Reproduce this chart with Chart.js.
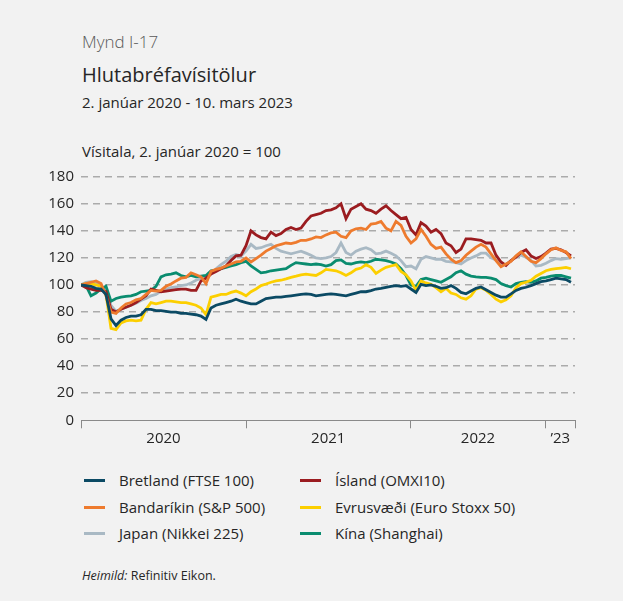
<!DOCTYPE html>
<html lang="is">
<head>
<meta charset="utf-8">
<script src="https://cdn.jsdelivr.net/npm/chart.js@4.4.1/dist/chart.umd.min.js"></script>
<style>
html,body{margin:0;padding:0;background:#f2f2f2;}
body{width:623px;height:601px;position:relative;overflow:hidden;font-family:"Open Sans","Noto Sans",sans-serif;color:#262626;}
.t{position:absolute;left:82px;white-space:nowrap;line-height:1;}
#mynd{top:33px;font-size:17px;color:#595959;font-weight:300;}
#titill{top:65px;font-size:20px;color:#262626;}
#undir{top:95px;font-size:15px;}
#eining{top:144px;font-size:15px;}
#heimild{top:570px;font-size:12.5px;}
#chartwrap{position:absolute;left:0;top:160px;width:623px;height:300px;}
.lg{position:absolute;font-size:15px;line-height:1;white-space:nowrap;}
.lg span.s{position:absolute;left:-35px;top:6px;width:21px;height:3px;}
</style>
</head>
<body>
<div class="t" id="mynd">Mynd I-17</div>
<div class="t" id="titill">Hlutabréfavísitölur</div>
<div class="t" id="undir">2. janúar 2020 - 10. mars 2023</div>
<div class="t" id="eining">Vísitala, 2. janúar 2020 = 100</div>
<div id="chartwrap"><canvas id="c" width="623" height="300"></canvas></div>
<div id="legend"></div>
<div class="t" id="heimild"><i>Heimild:</i> Refinitiv Eikon.</div>
<script>
// Year boundaries (observation index) and year labels
const aarSkil = [0, 33, 65.9, 92.9, 98.8];
const aarHeiti = ['2020', '2021', '2022', '\u201923'];

// Series values (index, 2. janúar 2020 = 100), roughly 12-day steps
const bretland = [100,99.5,99,97.5,97,93,75,70,74,76,77,77,78,82,82,81,81,80.5,80,80,79,79,78.5,78,77,74.5,83,85,86,87,88,89.5,88,87,86,86,88,90,90.5,91,91,91.5,92,92.5,93,93.4,93,92,92.5,93,93.4,93,92.5,92,93,94,95,95,95.8,97,97.5,98.3,99,99.5,99,99.5,97,94.5,100.5,99.5,100,99,97.5,98,99.5,97.5,94.5,93.5,95.5,97.5,98.5,96.5,94.5,92.5,91,91,93.4,96,97.5,98.3,99.5,101,102.5,103,104,105,104.5,104,102];
const bandarikin = [100,101,102,103,101,92,80,79,83,86,87,89,90,93,96,95.5,96,99,100.7,103,105,105.6,109,107.5,106,101,110,111.5,112.5,114,115.5,117,117.5,120,117,119.5,122,125,127,129,130,131,130.5,131.5,133,133,134,135.5,135,137,138.5,139,136,135,140,141.5,142,141,145,145.5,147,142,140,147,144,136,131,134,141,136,130,127,128,123,119,116.5,118,122,125,128,130,128,123,118,113.5,115.5,117.5,121.5,124.5,121,117.5,116.5,119.5,123,126,127.5,125.5,124.5,119.5];
const japan = [100,102,102.5,101.5,100,95,85,80.5,82,83.5,85,86.5,88.5,90,92,93,95.5,97,98,98.5,99.5,100,101.5,103.5,105,106.5,109,112,115,117.5,121,122.5,121.5,125,130,127,127.5,129,130,127,125,124,123,124,125,123.5,122,120,119.5,120,121,124,131,124,122,125,126.5,127.5,126,123,123.5,125,123.5,121.5,118,113.5,114,112,119,121,120,119,119,117.5,117,116.5,115.5,118,120,121.5,123.5,123.5,120,118.5,115,115,118,121,122,120.5,118,114,114.5,116,118,119.5,119,119.5,120];
const island = [100,98,97,96,96,95,82,80,82,83.5,85,87,89.5,92,97,96,95,95.5,96,96.5,97,97,96,96,103,105,108,110,112,114,118,121.5,122,129,140,137,135,134,139,136.5,138,141,142.5,141,142,147,151,152,153,155,155.5,157,160,149,156,158,160,156,155,153,156,158.5,155,152,149,150,141,137,146,143.5,139,141,138,131,129,124,126.5,134,134,133.5,133,131,131,122,117,114.5,118,120.5,124,126,121.5,119.5,121,123.5,126.5,127,126,124,121.5];
const evrusvaedi = [100,101,101,100,99,93,68,67,72,73.5,74,73.5,74,82,87,86,87,88,88,87.5,87,87,86,85,83,78,91,92,93,93,94.5,95.5,94,92,95,97,99.5,100.7,102,103,103.5,104.5,105.6,106.5,107.5,108,107.5,107,109,111.5,111,110.5,109,107,109,111.5,112.5,115,113,108.5,111,113,114,115,110,107.5,103,96,103,101.5,100.5,98,95,97.5,94,93,90.5,89.5,92,97,98,96,93,89.5,87.5,89,92,98,101,102,103.5,106.5,108.5,110.5,111.5,112,112.5,113,112];
const kina = [100,99.5,92,94,97,99,88,90,91,91.5,92,93,95,95.5,96,99,106,107.5,108,109,107,106,107,106,106.5,107,110.5,111,112,113,114,115,116.5,117.5,114,111.5,109,109.5,110.5,111,111.5,112,114.5,116.5,116,115.5,115,115.5,115,114,115,118,118.5,116,115.5,116.5,117,116.5,117.5,119,118.5,118,117,115.5,112,107,100,99,104,105,104,103,102,104,106,109,110.5,108,106.5,106,105.6,105.6,105,104,101,99.5,98.5,101,102,102.5,102,103,105,105.6,106.5,107,107,106,105];

const seriesDefs = [
  {label: 'Bretland (FTSE 100)', data: bretland, color: '#0b4a64', order: 1},
  {label: 'Bandaríkin (S&P 500)', data: bandarikin, color: '#ee7b2e', order: 2},
  {label: 'Japan (Nikkei 225)', data: japan, color: '#a9b9c4', order: 6},
  {label: 'Ísland (OMXI10)', data: island, color: '#9b1c20', order: 3},
  {label: 'Evrusvæði (Euro Stoxx 50)', data: evrusvaedi, color: '#fccf00', order: 4},
  {label: 'Kína (Shanghai)', data: kina, color: '#0a8c6f', order: 5}
];

// HTML legend, two columns
const legendPos = [[119,473],[119,500],[119,526],[335,473],[335,500],[335,526]];
const lg = document.getElementById('legend');
seriesDefs.forEach((s, i) => {
  const d = document.createElement('div');
  d.className = 'lg';
  d.style.left = legendPos[i][0] + 'px';
  d.style.top = legendPos[i][1] + 'px';
  const sw = document.createElement('span');
  sw.className = 's';
  sw.style.background = s.color;
  d.appendChild(sw);
  d.appendChild(document.createTextNode(s.label));
  lg.appendChild(d);
});

const mids = aarHeiti.map((h, i) => ({value: (aarSkil[i] + aarSkil[i + 1]) / 2, lbl: h}));

new Chart(document.getElementById('c'), {
  type: 'line',
  data: {
    datasets: seriesDefs.map(s => ({
      label: s.label,
      data: s.data.map((v, i) => ({x: i, y: v})),
      borderColor: s.color,
      backgroundColor: s.color,
      borderWidth: 2.8,
      pointRadius: 0,
      tension: 0,
      order: s.order
    }))
  },
  options: {
    responsive: false,
    animation: false,
    events: [],
    layout: {padding: {top: 16.7, right: 48, bottom: 0, left: 0}},
    plugins: {legend: {display: false}, tooltip: {enabled: false}},
    scales: {
      x: {
        type: 'linear',
        bounds: 'data',
        min: aarSkil[0],
        max: aarSkil[aarSkil.length - 1],
        afterBuildTicks: (scale) => {
          const t = aarSkil.map(v => ({value: v, lbl: ''})).concat(mids.map(m => ({value: m.value, lbl: m.lbl})));
          t.sort((a, b) => a.value - b.value);
          scale.ticks = t;
        },
        afterFit: (scale) => { scale.height = 39.7; },
        ticks: {
          autoSkip: false,
          maxRotation: 0,
          padding: 1,
          color: '#262626',
          font: {family: '"Open Sans","Noto Sans",sans-serif', size: 15},
          callback: (v, i, ticks) => ticks[i].lbl
        },
        grid: {
          drawOnChartArea: false,
          drawTicks: true,
          tickLength: 8,
          lineWidth: 1,
          color: (ctx) => (ctx.tick && ctx.tick.lbl) ? 'rgba(0,0,0,0)' : '#8a8a8a'
        },
        border: {display: true, color: '#8a8a8a', width: 1}
      },
      y: {
        min: 0,
        max: 180,
        afterFit: (scale) => { scale.width = 81; },
        ticks: {
          stepSize: 20,
          padding: 7,
          color: '#262626',
          font: {family: '"Open Sans","Noto Sans",sans-serif', size: 15}
        },
        grid: {
          drawTicks: false,
          lineWidth: 1.5,
          color: (ctx) => (ctx.tick && ctx.tick.value === 0) ? 'rgba(0,0,0,0)' : '#ababab'
        },
        border: {display: false, dash: [7, 5]}
      }
    }
  }
});
</script>
</body>
</html>
